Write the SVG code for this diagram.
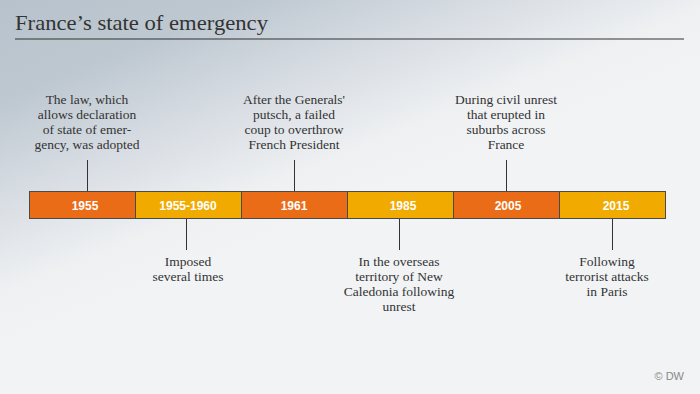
<svg xmlns="http://www.w3.org/2000/svg" width="700" height="394" viewBox="0 0 700 394">
<defs>
<linearGradient id="bg" x1="0" y1="0" x2="120" y2="295" gradientUnits="userSpaceOnUse">
<stop offset="0" stop-color="#B7C2CC"/>
<stop offset="0.3" stop-color="#BEC8D1"/>
<stop offset="0.6" stop-color="#D9DEE4"/>
<stop offset="0.85" stop-color="#EEF0F2"/>
<stop offset="1" stop-color="#F2F3F5"/>
</linearGradient>
<style>
.note{font-family:"Liberation Serif","Times New Roman",serif;font-size:13.5px;fill:#333;text-anchor:middle}
.yr{font-family:"Liberation Sans",Arial,sans-serif;font-size:12px;font-weight:bold;fill:#fff;text-anchor:middle}
.or{fill:#EA6C17;stroke:#4a4a4a;stroke-width:1}
.ye{fill:#F1AA00;stroke:#4a4a4a;stroke-width:1}
.con line{stroke:#333;stroke-width:1}
</style>
</defs>
<rect width="700" height="394" fill="url(#bg)"/>
<text x="15" y="30" font-family="Liberation Serif,serif" font-size="22" fill="#333" textLength="253" lengthAdjust="spacingAndGlyphs">France’s state of emergency</text>
<line x1="15" y1="39" x2="684" y2="39" stroke="#333" stroke-width="1.2"/>
<g id="connectors" class="con">
<line x1="87.5" y1="160" x2="87.5" y2="191"/>
<line x1="294.5" y1="160" x2="294.5" y2="191"/>
<line x1="506.5" y1="160" x2="506.5" y2="191"/>
<line x1="186.5" y1="218" x2="186.5" y2="250"/>
<line x1="399.5" y1="218" x2="399.5" y2="250"/>
<line x1="612.5" y1="218" x2="612.5" y2="250"/>
</g>
<g id="n1955"><rect class="or" x="29.5" y="191.5" width="106" height="27"/><text class="yr" x="85" y="209.5">1955</text></g>
<g id="n1955-1960"><rect class="ye" x="135.5" y="191.5" width="106" height="27"/><text class="yr" x="188" y="209.5">1955-1960</text></g>
<g id="n1961"><rect class="or" x="241.5" y="191.5" width="106" height="27"/><text class="yr" x="294" y="209.5">1961</text></g>
<g id="n1985"><rect class="ye" x="347.5" y="191.5" width="106" height="27"/><text class="yr" x="403" y="209.5">1985</text></g>
<g id="n2005"><rect class="or" x="453.5" y="191.5" width="106" height="27"/><text class="yr" x="508" y="209.5">2005</text></g>
<g id="n2015"><rect class="ye" x="559.5" y="191.5" width="106" height="27"/><text class="yr" x="616" y="209.5">2015</text></g>
<g id="t1955"><text class="note" x="87" y="104">The law, which</text><text class="note" x="87" y="119">allows declaration</text><text class="note" x="87" y="134">of state of emer-</text><text class="note" x="87" y="149">gency, was adopted</text></g>
<g id="t1961"><text class="note" x="294" y="104">After the Generals'</text><text class="note" x="294" y="119">putsch, a failed</text><text class="note" x="294" y="134">coup to overthrow</text><text class="note" x="294" y="149">French President</text></g>
<g id="t2005"><text class="note" x="506" y="104">During civil unrest</text><text class="note" x="506" y="119">that erupted in</text><text class="note" x="506" y="134">suburbs across</text><text class="note" x="506" y="149">France</text></g>
<g id="t1955-1960"><text class="note" x="188" y="266">Imposed</text><text class="note" x="188" y="281">several times</text></g>
<g id="t1985"><text class="note" x="399" y="266">In the overseas</text><text class="note" x="399" y="281">territory of New</text><text class="note" x="399" y="296">Caledonia following</text><text class="note" x="399" y="311">unrest</text></g>
<g id="t2015"><text class="note" x="607" y="266">Following</text><text class="note" x="607" y="281">terrorist attacks</text><text class="note" x="607" y="296">in Paris</text></g>
<text x="684" y="380" text-anchor="end" font-family="Liberation Sans,Arial,sans-serif" font-size="11" fill="#888">© DW</text>
</svg>
